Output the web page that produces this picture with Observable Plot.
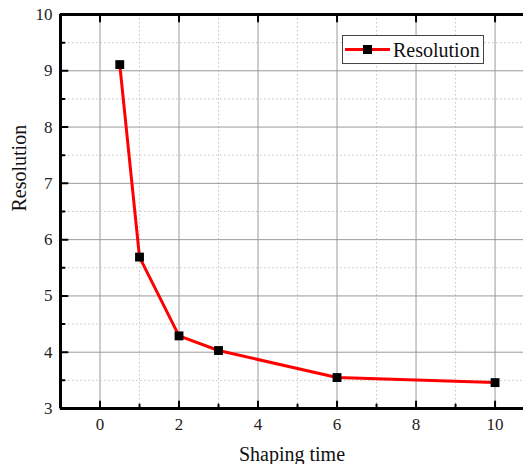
<!DOCTYPE html>
<html>
<head>
<meta charset="utf-8">
<script src="https://cdn.jsdelivr.net/npm/d3@7"></script>
<script src="https://cdn.jsdelivr.net/npm/@observablehq/plot@0.6"></script>
<style>
  html, body { margin: 0; padding: 0; background: #fff; overflow: hidden; }
  #chart svg { display: block; }
  #chart svg, #chart svg text { font-family: "Times New Roman", "Liberation Serif", "DejaVu Serif", serif !important; }
</style>
</head>
<body>
<div id="chart"></div>
<script>
// Data
const shapingTime = [0.5, 1, 2, 3, 6, 10];
const resolution = [9.11, 5.69, 4.29, 4.03, 3.55, 3.46];
const seriesName = "Resolution";

// Axis tick values
const xMajor = [0, 2, 4, 6, 8, 10];
const xMinor = [1, 3, 5, 7, 9];
const yMajor = [3, 4, 5, 6, 7, 8, 9, 10];
const yMinor = [3.5, 4.5, 5.5, 6.5, 7.5, 8.5, 9.5];
const xDomain = [-1, 10.72];
const yDomain = [3, 10];
const xTitle = "Shaping time";
const yTitle = "Resolution";

const data = shapingTime.map((t, i) => ({t, r: resolution[i]}));

const tickShape = {
  draw(context, l) {
    context.moveTo(0, 0);
    context.lineTo(0, -l);
  }
};

const font = "'Times New Roman', 'Liberation Serif', 'DejaVu Serif', serif";

const plot = Plot.plot({
  width: 523,
  height: 464,
  marginLeft: 60,
  marginRight: 0,
  marginTop: 14,
  marginBottom: 56,
  style: {fontFamily: font, fontSize: "17px", color: "#222", background: "#fff", overflow: "visible"},
  x: {domain: xDomain, axis: null},
  y: {domain: yDomain, axis: null},
  marks: [
    // minor grid
    Plot.ruleX(xMinor, {stroke: "#c4c4c4", strokeWidth: 1, strokeDasharray: "1.5,2.5"}),
    Plot.ruleY(yMinor, {stroke: "#c4c4c4", strokeWidth: 1, strokeDasharray: "1.5,2.5"}),
    // major grid
    Plot.ruleX(xMajor, {stroke: "#9a9a9a", strokeWidth: 1}),
    Plot.ruleY(yMajor.filter(v => v > yDomain[0] && v < yDomain[1]), {stroke: "#9a9a9a", strokeWidth: 1}),
    // axis lines
    Plot.ruleX([xDomain[0]], {stroke: "#000", strokeWidth: 3}),
    Plot.ruleY([yDomain[0]], {stroke: "#000", strokeWidth: 3}),
    Plot.ruleY([yDomain[1]], {stroke: "#000", strokeWidth: 3}),
    // inward ticks
    Plot.vector(xMajor, {x: d => d, y: () => yDomain[0], length: 7, rotate: 0, anchor: "start", shape: tickShape, stroke: "#000", strokeWidth: 2}),
    Plot.vector(xMinor, {x: d => d, y: () => yDomain[0], length: 4, rotate: 0, anchor: "start", shape: tickShape, stroke: "#000", strokeWidth: 2}),
    Plot.vector(xMajor, {x: d => d, y: () => yDomain[1], length: 7, rotate: 180, anchor: "start", shape: tickShape, stroke: "#000", strokeWidth: 2}),
    Plot.vector(yMajor, {x: () => xDomain[0], y: d => d, length: 7, rotate: 90, anchor: "start", shape: tickShape, stroke: "#000", strokeWidth: 2}),
    Plot.vector(yMinor, {x: () => xDomain[0], y: d => d, length: 4, rotate: 90, anchor: "start", shape: tickShape, stroke: "#000", strokeWidth: 2}),
    // tick labels
    Plot.axisX({ticks: xMajor, tickSize: 0, tickPadding: 9, fontSize: 17, label: null, tickFormat: d3.format("d"), fontFamily: font, fill: "#222"}),
    Plot.axisY({ticks: yMajor, tickSize: 0, tickPadding: 8, fontSize: 17, label: null, tickFormat: d3.format("d"), fontFamily: font, fill: "#222"}),
    // axis titles
    Plot.text([xTitle], {frameAnchor: "bottom", dy: 52, fontSize: 20, fill: "#111", fontFamily: font}),
    Plot.text([yTitle], {frameAnchor: "left", dx: -41, rotate: -90, fontSize: 20, fill: "#111", fontFamily: font}),
    // data
    Plot.line(data, {x: "t", y: "r", stroke: "#ff0000", strokeWidth: 3}),
    Plot.dot(data, {x: "t", y: "r", symbol: "square", r: 5, fill: "#000", stroke: "none"})
  ]
});

// legend inside plot area
const svg = d3.select(plot);
const lg = svg.append("g").attr("font-family", font).attr("text-anchor", "start");
lg.append("rect").attr("x", 342.5).attr("y", 35.5).attr("width", 141).attr("height", 28)
  .attr("fill", "#fff").attr("stroke", "#444").attr("stroke-width", 1);
lg.append("line").attr("x1", 345).attr("x2", 390).attr("y1", 49.5).attr("y2", 49.5)
  .attr("stroke", "#ff0000").attr("stroke-width", 3);
lg.append("rect").attr("x", 363).attr("y", 45).attr("width", 9).attr("height", 9).attr("fill", "#000");
lg.append("text").attr("x", 393).attr("y", 56.5).attr("font-size", 20).attr("fill", "#111")
  .attr("text-anchor", "start").text(seriesName);

document.getElementById("chart").appendChild(plot);
</script>
</body>
</html>
